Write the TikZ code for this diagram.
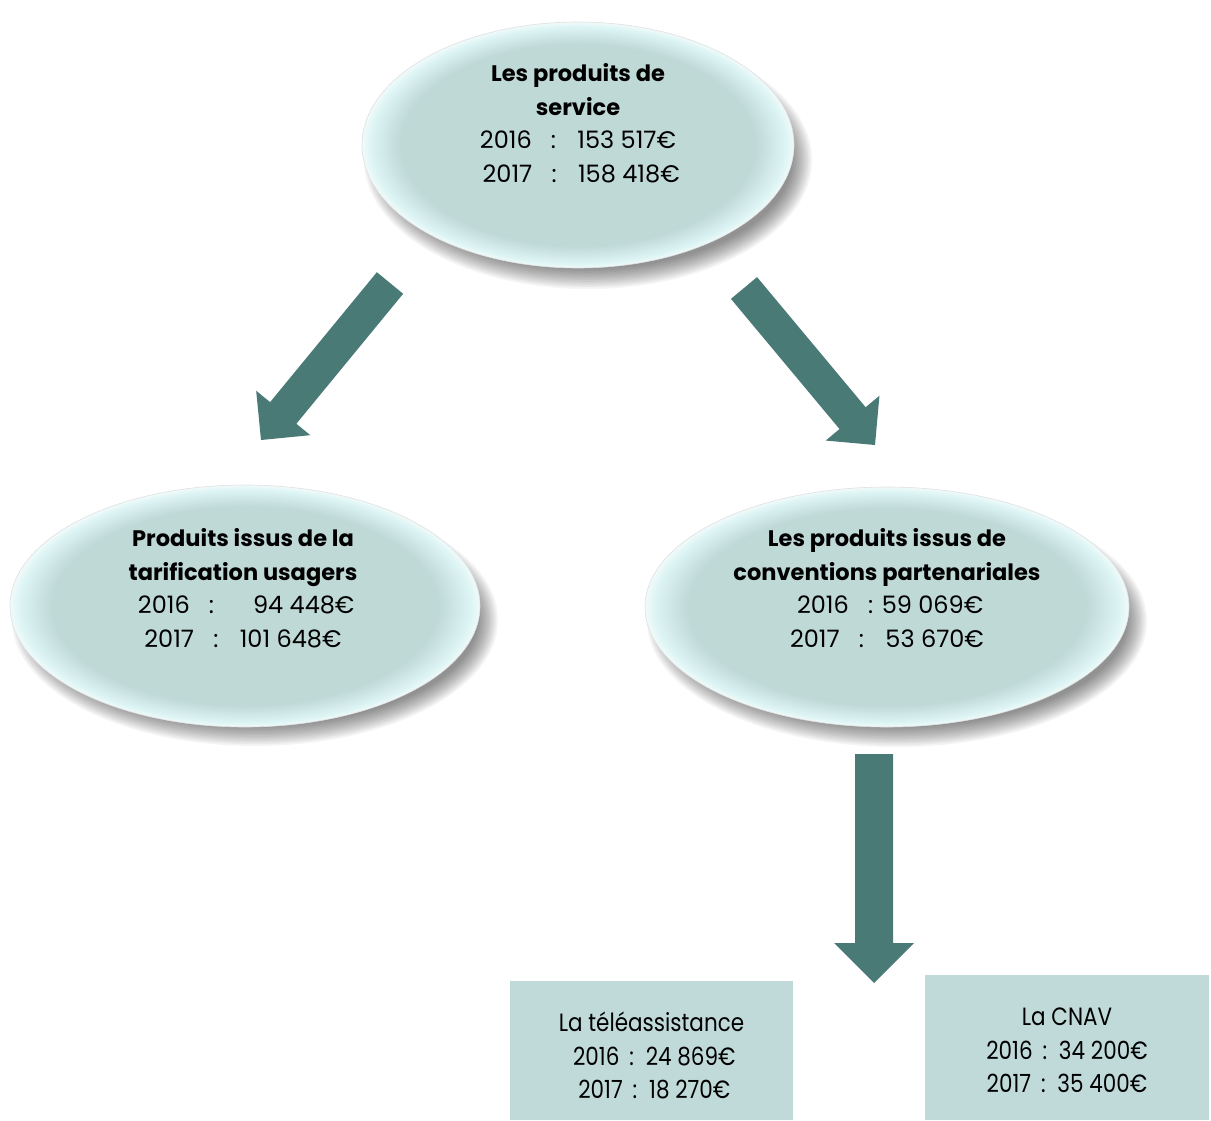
\documentclass[tikz,border=0pt]{standalone}
\usepackage{fontspec}
\setmainfont{Poppins}
\newfontfamily\boxfont[FakeStretch=0.86]{Poppins}
\usetikzlibrary{calc,shapes.geometric}
\definecolor{ellfill}{HTML}{BFD9D7}
\definecolor{glowc}{HTML}{DDF4F4}
\definecolor{glowedge}{HTML}{F0FAFA}
\definecolor{arrowc}{HTML}{497A76}
\definecolor{boxc}{HTML}{C0DAD9}
\pgfdeclareradialshading{ellglow}{\pgfpoint{0bp}{0bp}}{color(0bp)=(ellfill); color(20.5bp)=(ellfill); color(24bp)=(glowc); color(25bp)=(glowedge); color(50bp)=(white)}
\newcommand{\softshadow}[4]{%
  \foreach \k in {0,...,11}{\fill[black,opacity=0.042] (#1,#2) ellipse [x radius={#3+8-1.8*\k}, y radius={#4+6-1.8*\k}];}}
\newcommand{\hd}[1]{{\fontsize{22.5}{33.5}\selectfont\bfseries #1}}
% #1 tail, #2 tip, #3 half shaft, #4 half head, #5 head length
\newcommand{\blockarrow}[5]{%
  \path ($(#2)!#5pt!(#1)$) coordinate (hb);
  \fill[arrowc] ($(#1)!#3pt!90:(#2)$) -- ($(hb)!#3pt!-90:(#1)$) -- ($(hb)!#4pt!-90:(#1)$)
    -- (#2) -- ($(hb)!#4pt!90:(#1)$) -- ($(hb)!#3pt!90:(#1)$) -- ($(#1)!#3pt!-90:(#2)$) -- cycle;}
\tikzset{
  ell/.style={ellipse, shading=ellglow, draw=black!12, line width=0.6pt, inner sep=0pt},
  elltext/.style={inner sep=0pt, align=center, font=\fontsize{24}{33.5}\selectfont},
  infobox/.style={rectangle, fill=boxc, inner sep=0pt, align=center,
    font=\boxfont\fontsize{25}{33.5}\selectfont}
}
\begin{document}
\begin{tikzpicture}[x=1pt,y=-1pt]
\useasboundingbox[fill=white] (0,0) rectangle (1211,1121);
% shadows
\softshadow{588}{160}{216}{123}
\softshadow{255}{620}{235}{120}
\softshadow{897}{621}{242}{120}
% ellipses
\node[ell, minimum width=432pt, minimum height=246pt] (top) at (578,145) {};
\node[ell, minimum width=470pt, minimum height=242pt] (left) at (245,606) {};
\node[ell, minimum width=484pt, minimum height=240pt] (right) at (887,607) {};
\node[elltext] (toptxt) at ($(top.center)+(0,-22)$)
  {\hd{Les produits de}\\ \hd{service}\\ 2016 \ \ : \ \ 153 517€\\ \ 2017 \ \ : \ \ 158 418€};
\node[elltext] (lefttxt) at ($(left.center)+(-2,-18)$)
  {\hd{Produits issus de la}\\ \hd{tarification usagers}\\ \ 2016 \ \ : \quad\ 94 448€\\ 2017 \ \ : \ \ 101 648€};
\node[elltext] (righttxt) at ($(right.center)+(0,-19)$)
  {\hd{Les produits issus de}\\ \hd{conventions partenariales}\\ \ 2016 \ \ : 59 069€\\ 2017 \ \ : \ \ 53 670€};
% boxes
\node[infobox, minimum width=283pt, minimum height=139pt] (tele) at (651.5,1050.5) {};
\node[infobox, minimum width=284pt, minimum height=145pt] (cnav) at (1067,1047.5) {};
\node[infobox, fill=none] (teletxt) at ($(tele.center)+(0,5)$)
  {La téléassistance\\ \ 2016 \,:\, 24 869€\\ \ 2017 \,:\, 18 270€};
\node[infobox, fill=none] (cnavtxt) at ($(cnav.center)+(0,3)$)
  {La CNAV\\ 2016 \,:\, 34 200€\\ 2017 \,:\, 35 400€};
% arrows
\coordinate (a1s) at (390,283); \coordinate (a1e) at (261,440);
\coordinate (a2s) at (744,288); \coordinate (a2e) at (875,445);
\coordinate (a3s) at (874,754); \coordinate (a3e) at (874,983);
\blockarrow{a1s}{a1e}{17}{35}{35}
\blockarrow{a2s}{a2e}{17}{35}{35}
\blockarrow{a3s}{a3e}{19}{40}{40}
\end{tikzpicture}
\end{document}
